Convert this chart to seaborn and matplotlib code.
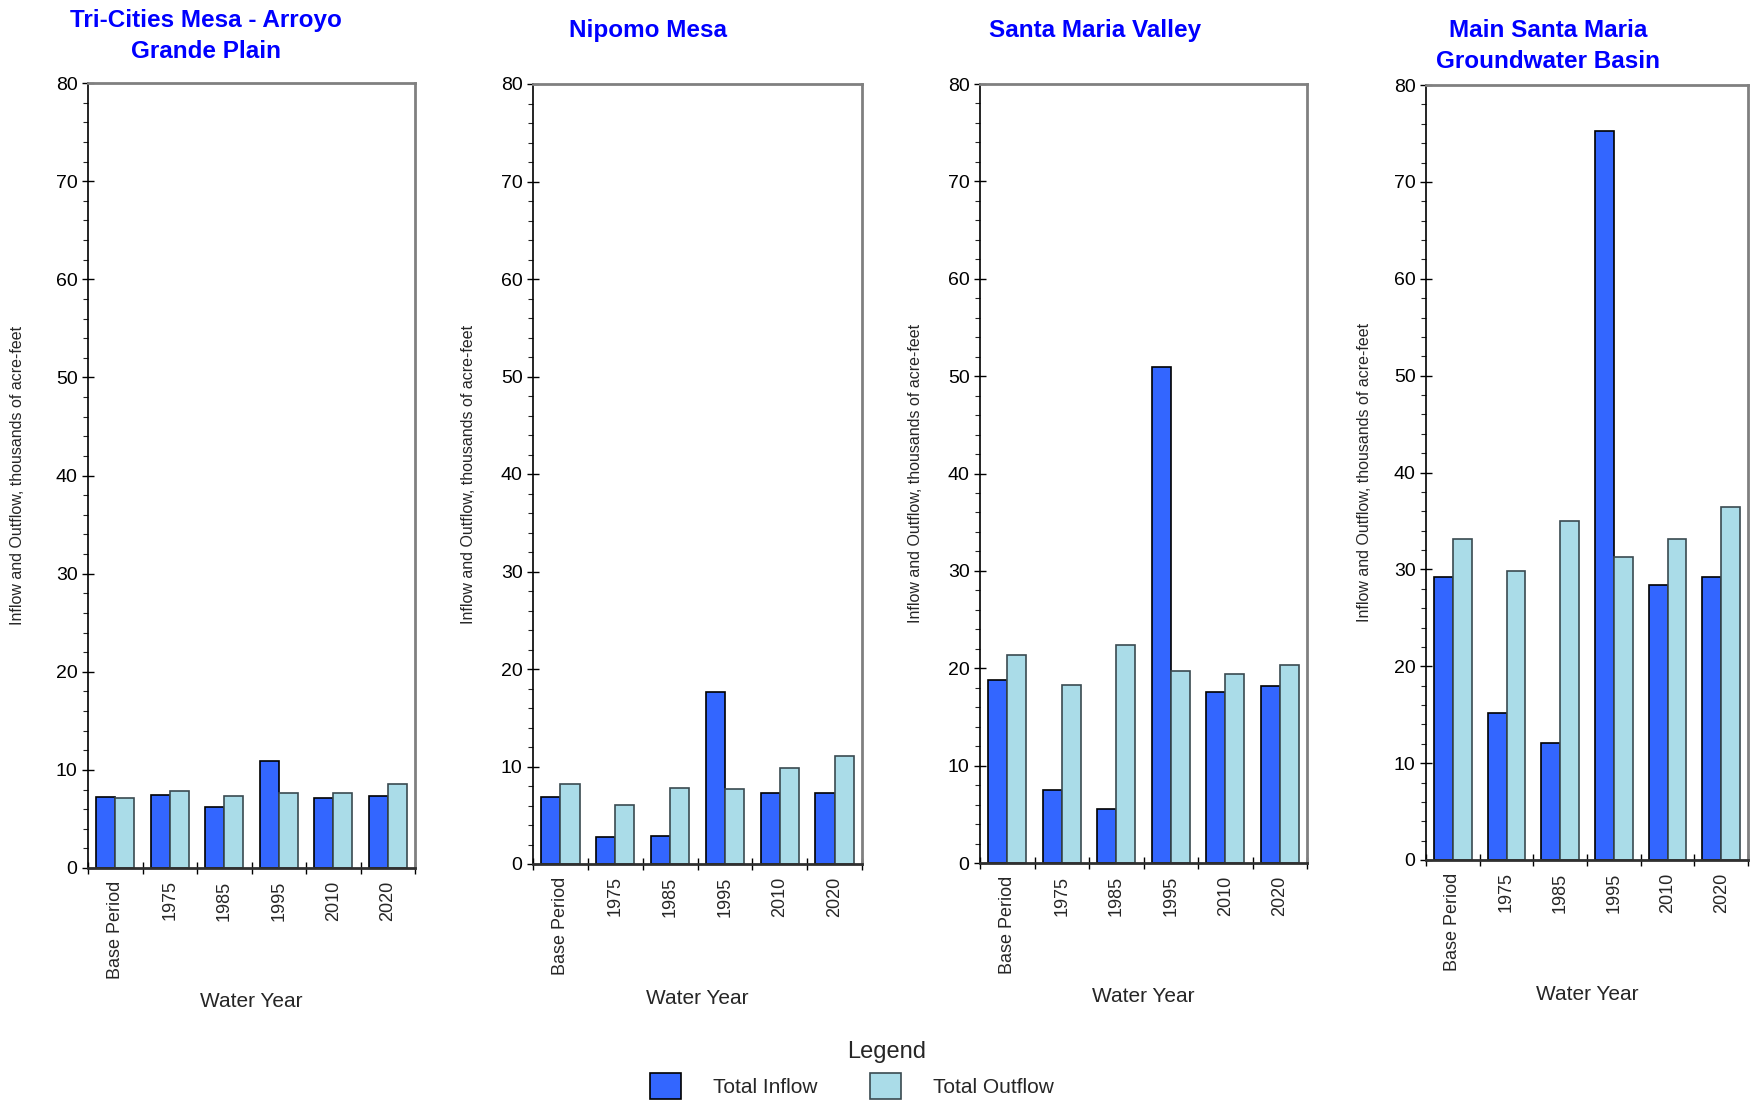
import matplotlib
matplotlib.use("Agg")
import matplotlib.pyplot as plt
import seaborn as sns
import numpy as np
import pandas as pd

# --- data (thousands of acre-feet) ---
years = ["Base Period", "1975", "1985", "1995", "2010", "2020"]
flows = ["Total Inflow", "Total Outflow"]
regions = ["Tri-Cities Mesa - Arroyo\nGrande Plain", "Nipomo Mesa",
           "Santa Maria Valley", "Main Santa Maria\nGroundwater Basin"]

tri_inflow = [7.2, 7.4, 6.2, 10.9, 7.1, 7.3]
tri_outflow = [7.1, 7.8, 7.3, 7.6, 7.6, 8.6]
nipomo_inflow = [6.9, 2.8, 2.85, 17.6, 7.3, 7.3]
nipomo_outflow = [8.2, 6.1, 7.8, 7.7, 9.8, 11.1]
smv_inflow = [18.8, 7.5, 5.5, 50.9, 17.6, 18.2]
smv_outflow = [21.4, 18.3, 22.4, 19.7, 19.4, 20.3]
basin_inflow = [29.2, 15.2, 12.1, 75.3, 28.4, 29.2]
basin_outflow = [33.1, 29.8, 35.0, 31.3, 33.1, 36.4]

series = [(tri_inflow, tri_outflow), (nipomo_inflow, nipomo_outflow),
          (smv_inflow, smv_outflow), (basin_inflow, basin_outflow)]

# --- styling ---
sns.set_theme(style="white")
plt.rcParams['font.family'] = ['Liberation Sans', 'DejaVu Sans']

W, H = 1750, 1102
inflow_color = "#3366ff"
outflow_color = "#aadce8"

# panel boxes in pixels: left, right, top, bottom
boxes = [(88, 415, 83, 868), (533, 862, 84, 864),
         (980, 1307, 84, 863), (1426, 1748, 85, 860)]
title_pos = [(206, 36), (648, 30), (1095, 30), (1548, 46)]
ylabel_x = [25, 476, 923, 1372]   # right edge of the rotated label
xlabel_y = [1002, 999, 997, 995]

fig = plt.figure(figsize=(W / 100, H / 100), dpi=100)

for i, (inflow, outflow) in enumerate(series):
    l, r, t, b = boxes[i]
    ax = fig.add_axes([l / W, 1 - b / H, (r - l) / W, (b - t) / H])

    df = pd.DataFrame({
        "year": years * 2,
        "flow": [flows[0]] * len(years) + [flows[1]] * len(years),
        "value": list(inflow) + list(outflow),
    })
    sns.barplot(data=df, x="year", y="value", hue="flow", order=years,
                hue_order=flows, palette=[inflow_color, outflow_color],
                width=0.7, gap=0, saturation=1, legend=False, ax=ax)
    for bar in ax.containers[0]:
        bar.set_edgecolor("black")
        bar.set_linewidth(1.2)
    for bar in ax.containers[1]:
        bar.set_edgecolor("#3a4a50")
        bar.set_linewidth(1.2)

    ax.set_ylim(0, 80)
    ax.set_xlim(-0.5, len(years) - 0.5)

    # y ticks
    ax.set_yticks(np.arange(0, 81, 10))
    ax.set_yticks(np.arange(0, 81, 2), minor=True)
    ax.tick_params(axis='y', which='major', direction='inout', length=9,
                   width=1, labelsize=14, pad=3, left=True, colors='black')
    ax.tick_params(axis='y', which='minor', direction='out', length=3.5,
                   width=0.8, left=True)

    # x ticks: boundaries as major ticks, category labels on minor
    ax.set_xticks(np.arange(-0.5, len(years), 1))
    ax.set_xticklabels([])
    ax.set_xticks(np.arange(len(years)), minor=True)
    ax.set_xticklabels(years, minor=True, rotation=90, fontsize=13)
    ax.tick_params(axis='x', which='major', direction='inout', length=8,
                   width=1, bottom=True, color='black')
    ax.tick_params(axis='x', which='minor', length=0, pad=9)

    for side in ['top', 'right']:
        ax.spines[side].set_color('#808080')
        ax.spines[side].set_linewidth(2)
    ax.spines['left'].set_color('black')
    ax.spines['left'].set_linewidth(1.2)
    ax.spines['bottom'].set_color('#303030')
    ax.spines['bottom'].set_linewidth(2)

    ax.set_ylabel("Inflow and Outflow, thousands of acre-feet", fontsize=11.5)
    ax.yaxis.set_label_coords((ylabel_x[i] - l) / (r - l), 0.5)
    ax.set_xlabel("Water Year", fontsize=15)
    ax.xaxis.set_label_coords(0.5, -(xlabel_y[i] - 10 - b) / (b - t))

    tx, ty = title_pos[i]
    fig.text(tx / W, 1 - ty / H, regions[i], ha='center', va='center',
             color='#0000ff', fontweight='bold', fontsize=17.5, linespacing=1.45)

    if i == 0:
        handles = [ax.containers[0], ax.containers[1]]

fig.text(887 / W, 1 - 1052 / H, "Legend", ha='center', va='center', fontsize=17)
fig.legend(handles, flows, loc='center', bbox_to_anchor=(852 / W, 1 - 1086 / H),
           ncol=2, frameon=False, fontsize=15, handlelength=1.5, handleheight=1.5,
           handletextpad=1.55, columnspacing=2.5, borderpad=0)

fig.savefig("out.png", dpi=100)
